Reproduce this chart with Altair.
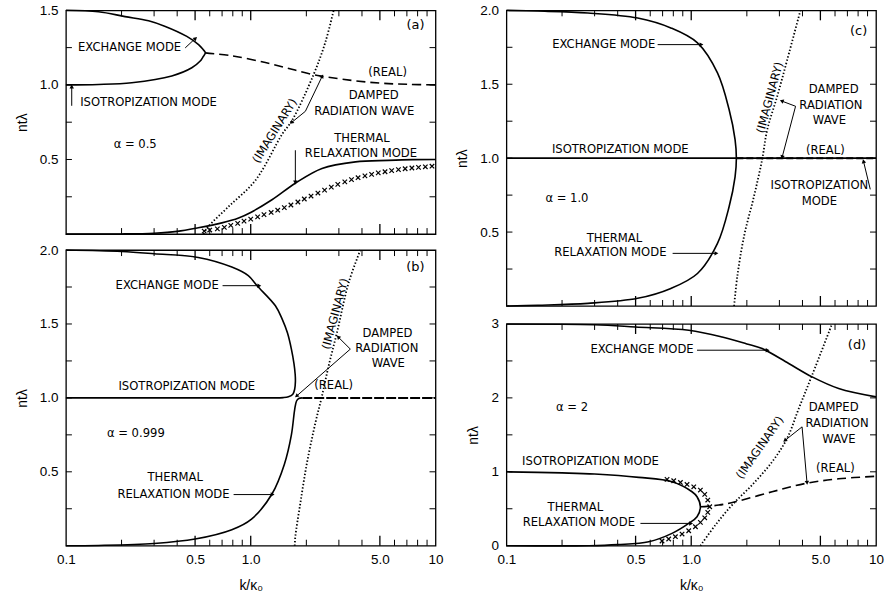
import math
import altair as alt
import pandas as pd

# ---------------- Panel (a): alpha = 0.5 ----------------
a_exch_k = [0.1, 0.15, 0.209, 0.28, 0.345, 0.451, 0.522, 0.55, 0.568, 0.55, 0.533, 0.48, 0.374, 0.227, 0.15, 0.1]
a_exch_y = [1.5, 1.49, 1.458, 1.43, 1.392, 1.325, 1.27, 1.24, 1.215, 1.185, 1.16, 1.115, 1.06, 1.015, 1.003, 1.0]
a_real_k = [0.568, 0.79, 1.2, 1.67, 2.15, 2.43, 3.53, 5.0, 7.0, 10.0]
a_real_y = [1.215, 1.195, 1.15, 1.105, 1.07, 1.058, 1.03, 1.012, 1.004, 1.0]
a_imag_k = [0.556, 0.59, 0.76, 1.06, 1.48, 1.67, 2.19, 2.54, 2.81]
a_imag_y = [0.0, 0.05, 0.185, 0.36, 0.67, 0.76, 1.07, 1.29, 1.5]
a_therm_k = [0.1, 0.2, 0.3, 0.4, 0.52, 0.698, 0.86, 1.0, 1.303, 1.744, 2.43, 3.69, 5.56, 7.5, 10.0]
a_therm_y = [0.0, 0.001, 0.006, 0.018, 0.042, 0.075, 0.108, 0.145, 0.23, 0.341, 0.44, 0.484, 0.494, 0.499, 0.5]
a_x_k = [0.56, 0.60, 0.66, 0.72, 0.78, 0.85, 0.92, 1.0, 1.09, 1.18, 1.29, 1.40, 1.52, 1.65, 1.80, 1.95, 2.12,
         2.31, 2.51, 2.73, 2.96, 3.23, 3.51, 3.81, 4.15, 4.51, 4.90, 5.33, 5.79, 6.30, 6.85, 7.45, 8.09, 8.81, 9.57]
a_x_y = [0.02, 0.027, 0.035, 0.045, 0.058, 0.072, 0.087, 0.10, 0.115, 0.13, 0.145, 0.16, 0.177, 0.195, 0.215,
         0.235, 0.255, 0.275, 0.295, 0.315, 0.333, 0.35, 0.365, 0.378, 0.39, 0.40, 0.41, 0.418, 0.425, 0.432,
         0.438, 0.443, 0.447, 0.451, 0.455]

# ---------------- Panel (b): alpha = 0.999 ----------------
b_ie_k = [0.1, 0.5, 1.0, 1.3, 1.5, 1.6, 1.69, 1.73, 1.745, 1.74, 1.715, 1.66, 1.58, 1.48, 1.36, 1.08, 0.97, 0.79, 0.52, 0.3, 0.2, 0.1]
b_ie_y = [1.0, 1.0, 1.0, 1.0, 1.002, 1.008, 1.025, 1.06, 1.11, 1.16, 1.23, 1.33, 1.44, 1.533, 1.623, 1.76, 1.827, 1.885, 1.95, 1.975, 1.99, 2.0]
b_therm_k = [0.1, 0.15, 0.3, 0.5, 0.79, 1.01, 1.303, 1.52, 1.66, 1.73, 1.77, 1.82, 1.9]
b_therm_y = [0.0, 0.002, 0.015, 0.045, 0.108, 0.18, 0.35, 0.55, 0.75, 0.923, 0.979, 0.996, 1.0]
b_real_k = [1.9, 10.0]
b_real_y = [1.0, 1.0]
b_imag_k = [1.73, 1.744, 1.857, 2.016, 2.24, 2.43, 2.64, 2.93, 3.39, 3.92]
b_imag_y = [0.0, 0.063, 0.29, 0.561, 0.832, 1.013, 1.216, 1.443, 1.78, 2.0]

# ---------------- Panel (c): alpha = 1.0 ----------------
c_et_k = [0.1, 0.148, 0.276, 0.513, 0.776, 1.081, 1.387, 1.603, 1.727, 1.755, 1.727, 1.603, 1.387, 1.081, 0.776, 0.513, 0.276, 0.148, 0.1]
c_et_y = [2.0, 1.995, 1.982, 1.948, 1.881, 1.78, 1.577, 1.329, 1.126, 1.0, 0.874, 0.671, 0.423, 0.22, 0.119, 0.052, 0.018, 0.005, 0.0]
c_iso_k = [0.1, 10.0]
c_iso_y = [1.0, 1.0]
c_real_k = [1.755, 10.0]
c_real_y = [1.0, 1.0]
c_imag_k = [1.706, 1.777, 1.932, 2.187, 2.42, 2.58, 2.92, 3.31, 3.90]
c_imag_y = [0.0, 0.203, 0.473, 0.743, 0.991, 1.194, 1.419, 1.667, 2.0]

# ---------------- Panel (d): alpha = 2 ----------------
d_exch_k = [0.1, 0.3, 0.5, 0.97, 1.47, 2.0, 2.42, 3.37, 4.51, 6.28, 10.0]
d_exch_y = [3.0, 2.99, 2.96, 2.915, 2.824, 2.73, 2.667, 2.465, 2.284, 2.127, 2.014]
d_it_k = [0.1, 0.2, 0.3, 0.52, 0.787, 1.01, 1.075, 1.121, 1.075, 0.969, 0.787, 0.589, 0.4, 0.28, 0.1]
d_it_y = [1.0, 0.985, 0.97, 0.925, 0.865, 0.73, 0.662, 0.527, 0.392, 0.302, 0.167, 0.054, 0.015, 0.0, 0.0]
d_real_k = [1.121, 1.41, 1.735, 2.74, 4.15, 6.28, 10.0]
d_real_y = [0.527, 0.55, 0.595, 0.73, 0.843, 0.905, 0.94]
d_imag_k = [1.121, 1.352, 1.663, 2.13, 2.74, 3.30, 3.82, 4.51, 5.78]
d_imag_y = [0.0, 0.28, 0.55, 0.82, 1.135, 1.451, 1.857, 2.307, 3.0]
d_x_k = [0.74, 0.804, 0.874, 0.949, 1.032, 1.121, 1.183, 1.229, 1.259, 1.229, 1.183, 1.121, 1.054, 0.969, 0.892, 0.821, 0.755, 0.695]
d_x_y = [0.897, 0.879, 0.856, 0.829, 0.797, 0.753, 0.694, 0.618, 0.527, 0.451, 0.378, 0.316, 0.257, 0.203, 0.158, 0.122, 0.091, 0.064]

# ---------------- axis tick values ----------------
x_minor = [0.2, 0.3, 0.4, 0.6, 0.7, 0.8, 0.9, 2, 3, 4, 6, 7, 8, 9]
x_major = [0.5, 1.0, 5.0]
x_labels = [0.1, 0.5, 1.0, 5.0, 10.0]
y_ticks_15 = [0.25, 0.5, 0.75, 1.0, 1.25]
y_ticks_20 = [0.25, 0.5, 0.75, 1.0, 1.25, 1.5, 1.75]
y_ticks_30 = [0.5, 1.0, 1.5, 2.0, 2.5]
y_labels_15 = [0.5, 1.0, 1.5]
y_labels_20 = [0.5, 1.0, 1.5, 2.0]
y_labels_30 = [0, 1, 2, 3]

# ---------------- annotations (text, k, y) ----------------
a_texts = [("EXCHANGE MODE", 0.221, 1.248), ("ISOTROPIZATION MODE", 0.28, 0.876), ("α = 0.5", 0.237, 0.595),
           ("(REAL)", 5.5, 1.08), ("DAMPED", 4.63, 0.927), ("RADIATION WAVE", 4.12, 0.821),
           ("THERMAL", 4.0, 0.635), ("RELAXATION MODE", 3.95, 0.54)]
a_tag = ("(a)", 7.79, 1.40)
a_rot = [("(IMAGINARY)", 1.36, 0.69, 302)]
a_arrows = [(0.442, 1.248, 0.5, 1.31), (0.1075, 0.86, 0.1075, 0.985), (1.976, 0.823, 1.672, 0.75),
            (1.976, 0.823, 2.43, 1.055), (1.744, 0.562, 1.744, 0.35)]

b_texts = [("EXCHANGE MODE", 0.353, 1.759), ("ISOTROPIZATION MODE", 0.451, 1.077), ("α = 0.999", 0.239, 0.758),
           ("DAMPED", 5.5, 1.431), ("RADIATION", 5.45, 1.33), ("WAVE", 5.55, 1.228), ("(REAL)", 2.81, 1.081),
           ("THERMAL", 0.39, 0.459), ("RELAXATION MODE", 0.382, 0.346)]
b_tag = ("(b)", 7.79, 1.884)
b_rot = [("(IMAGINARY)", 2.895, 1.567, 285)]
b_arrows = [(0.704, 1.759, 1.104, 1.759), (3.46, 1.33, 2.99, 1.409), (3.46, 1.33, 1.78, 1.015),
            (0.808, 0.346, 1.303, 0.346)]

c_texts = [("EXCHANGE MODE", 0.336, 1.768), ("ISOTROPIZATION MODE", 0.413, 1.054), ("α = 1.0", 0.2125, 0.721),
           ("THERMAL", 0.384, 0.455), ("RELAXATION MODE", 0.365, 0.356), ("DAMPED", 5.9, 1.459),
           ("RADIATION", 5.7, 1.351), ("WAVE", 5.6, 1.25), ("(REAL)", 5.32, 1.047),
           ("ISOTROPIZATION", 4.94, 0.811), ("MODE", 4.94, 0.703)]
c_tag = ("(c)", 8.05, 1.858)
c_rot = [("(IMAGINARY)", 2.687, 1.408, 285)]
c_arrows = [(0.658, 1.768, 1.127, 1.768), (0.793, 0.356, 1.358, 0.356), (3.67, 1.351, 3.11, 1.385),
            (3.67, 1.351, 3.11, 1.01), (9.31, 0.789, 8.57, 0.975)]

d_texts = [("EXCHANGE MODE", 0.542, 2.645), ("α = 2", 0.2265, 1.857), ("ISOTROPIZATION MODE", 0.285, 1.135),
           ("THERMAL", 0.236, 0.505), ("RELAXATION MODE", 0.2465, 0.302), ("DAMPED", 5.9, 1.857),
           ("RADIATION", 6.15, 1.64), ("WAVE", 6.3, 1.428), ("(REAL)", 6.03, 1.036)]
d_tag = ("(d)", 7.89, 2.712)
d_rot = [("(IMAGINARY)", 2.37, 1.324, 305)]
d_arrows = [(1.075, 2.645, 2.57, 2.645), (0.531, 0.302, 0.99, 0.302), (3.98, 1.608, 3.23, 1.428),
            (3.98, 1.608, 4.23, 0.86)]

# ---------------- styling ----------------
W = 370
TEXT_FONT = "DejaVu Sans"
LABEL_FONT = "Liberation Sans"
TEXT_SIZE = 11.6
SOLID = dict(strokeWidth=1.6, interpolate="catmull-rom")
DASH = dict(strokeWidth=1.6, strokeDash=[9, 5], interpolate="catmull-rom")
DOT = dict(strokeWidth=1.8, strokeDash=[1.4, 2.0], interpolate="catmull-rom")
REALB = dict(strokeWidth=2.0, strokeDash=[10, 2])
REALC = dict(strokeWidth=2.0, strokeDash=[7, 3])
XPATH = "M-1,-1L1,1M-1,1L1,-1"


def line_df(ks, ys):
    return pd.DataFrame({"k": ks, "y": ys, "i": list(range(len(ks)))})


def make_panel(H, ymax, yticks, ylabels, yfmt, curves, xmarks, texts, tag, rtexts, arrows, show_x):
    xscale = alt.Scale(type="log", domain=[0.1, 10], nice=False)
    yscale = alt.Scale(domain=[0, ymax], nice=False, zero=False)

    xaxis = None
    if show_x:
        xaxis = alt.Axis(values=x_labels,
                         labelExpr="datum.value >= 9.99 ? '10' : format(datum.value, '.1f')",
                         ticks=False, domain=False, grid=False, labelFlush=False, labelOverlap=False,
                         labelPadding=7, labelFont=LABEL_FONT, labelFontSize=13.5, labelColor="black",
                         title="k/κ₀", titleFont=LABEL_FONT, titleFontSize=14, titleFontWeight="normal",
                         titleColor="black", titlePadding=12)
    yaxis = alt.Axis(values=ylabels, format=yfmt, ticks=False, domain=False, grid=False,
                     labelFlush=False, labelOverlap=False, labelPadding=8, labelFont=LABEL_FONT,
                     labelFontSize=13.5, labelColor="black", title="ntλ", titleFont=LABEL_FONT,
                     titleFontSize=14, titleFontWeight="normal", titleColor="black", titlePadding=10)

    def X(f="k"):
        return alt.X(f + ":Q", scale=xscale, axis=xaxis)

    def Y(f="y"):
        return alt.Y(f + ":Q", scale=yscale, axis=yaxis)

    minor = pd.DataFrame({"k": x_minor})
    major = pd.DataFrame({"k": x_major})
    yt = pd.DataFrame({"y": yticks})
    layers = [
        alt.Chart(minor).mark_rule(color="black", strokeWidth=1).encode(x=X(), y=alt.value(H), y2=alt.value(H - 6)),
        alt.Chart(major).mark_rule(color="black", strokeWidth=1.3).encode(x=X(), y=alt.value(H), y2=alt.value(H - 10)),
        alt.Chart(minor).mark_rule(color="black", strokeWidth=1).encode(x=X(), y=alt.value(0), y2=alt.value(6)),
        alt.Chart(major).mark_rule(color="black", strokeWidth=1.3).encode(x=X(), y=alt.value(0), y2=alt.value(10)),
        alt.Chart(yt).mark_rule(color="black", strokeWidth=1).encode(y=Y(), x=alt.value(0), x2=alt.value(6)),
        alt.Chart(yt).mark_rule(color="black", strokeWidth=1).encode(y=Y(), x=alt.value(W - 6), x2=alt.value(W)),
    ]
    for ks, ys, style in curves:
        layers.append(alt.Chart(line_df(ks, ys)).mark_line(color="black", **style)
                      .encode(x=X(), y=Y(), order="i:Q"))
    if xmarks is not None:
        layers.append(alt.Chart(line_df(*xmarks)).mark_point(shape=XPATH, filled=False, color="black",
                                                             strokeWidth=1.2, size=20, opacity=1)
                      .encode(x=X(), y=Y()))
    tdf = pd.DataFrame({"t": [t[0] for t in texts], "k": [t[1] for t in texts], "y": [t[2] for t in texts]})
    layers.append(alt.Chart(tdf).mark_text(font=TEXT_FONT, fontSize=TEXT_SIZE, color="black", align="center",
                                           baseline="middle").encode(x=X(), y=Y(), text="t:N"))
    gdf = pd.DataFrame({"t": [tag[0]], "k": [tag[1]], "y": [tag[2]]})
    layers.append(alt.Chart(gdf).mark_text(font=TEXT_FONT, fontSize=13, color="black", align="center",
                                           baseline="middle").encode(x=X(), y=Y(), text="t:N"))
    for t, k, y, ang in rtexts:
        rdf = pd.DataFrame({"t": [t], "k": [k], "y": [y]})
        layers.append(alt.Chart(rdf).mark_text(font=TEXT_FONT, fontSize=TEXT_SIZE, color="black", align="center",
                                               baseline="middle", angle=ang).encode(x=X(), y=Y(), text="t:N"))

    def scr(k, y):
        return W * (math.log10(k) + 1) / 2, H * (1 - y / ymax)

    angs = []
    for k0, y0, k1, y1 in arrows:
        p0, p1 = scr(k0, y0), scr(k1, y1)
        angs.append(math.degrees(math.atan2(p1[0] - p0[0], -(p1[1] - p0[1]))) % 360)
    adf = pd.DataFrame({"k": [a[0] for a in arrows], "y": [a[1] for a in arrows],
                        "k1": [a[2] for a in arrows], "y1": [a[3] for a in arrows], "ang": angs})
    layers.append(alt.Chart(adf).mark_rule(color="black", strokeWidth=1)
                  .encode(x=X("k"), x2="k1:Q", y=Y("y"), y2="y1:Q"))
    layers.append(alt.Chart(adf).mark_point(shape="triangle", filled=True, color="black", size=20, opacity=1)
                  .encode(x=X("k1"), y=Y("y1"), angle=alt.Angle("ang:Q", scale=None)))
    return alt.layer(*layers).properties(width=W, height=H)


pa = make_panel(224, 1.5, y_ticks_15, y_labels_15, ".1f",
                [(a_exch_k, a_exch_y, SOLID), (a_real_k, a_real_y, DASH), (a_imag_k, a_imag_y, DOT),
                 (a_therm_k, a_therm_y, SOLID)],
                (a_x_k, a_x_y), a_texts, a_tag, a_rot, a_arrows, False)
pb = make_panel(296, 2.0, y_ticks_20, y_labels_20, ".1f",
                [(b_ie_k, b_ie_y, SOLID), (b_therm_k, b_therm_y, SOLID), (b_real_k, b_real_y, REALB),
                 (b_imag_k, b_imag_y, DOT)],
                None, b_texts, b_tag, b_rot, b_arrows, True)
pc = make_panel(296, 2.0, y_ticks_20, y_labels_20, ".1f",
                [(c_et_k, c_et_y, SOLID), (c_iso_k, c_iso_y, SOLID), (c_real_k, c_real_y, REALC),
                 (c_imag_k, c_imag_y, DOT)],
                None, c_texts, c_tag, c_rot, c_arrows, False)
pd_ = make_panel(222, 3.0, y_ticks_30, y_labels_30, ".0f",
                 [(d_exch_k, d_exch_y, SOLID), (d_it_k, d_it_y, SOLID), (d_real_k, d_real_y, DASH),
                  (d_imag_k, d_imag_y, DOT)],
                 (d_x_k, d_x_y), d_texts, d_tag, d_rot, d_arrows, True)

left = alt.vconcat(pa, pb, spacing=16, bounds="flush")
right = alt.vconcat(pc, pd_, spacing=18, bounds="flush")
chart = (alt.hconcat(left, right, spacing=10)
         .properties(padding={"left": 14, "top": 2, "right": 5, "bottom": 5}, background="white")
         .configure_view(stroke="black", strokeWidth=1.3))

chart.save("out.html", embed_options={"renderer": "svg", "actions": False})
